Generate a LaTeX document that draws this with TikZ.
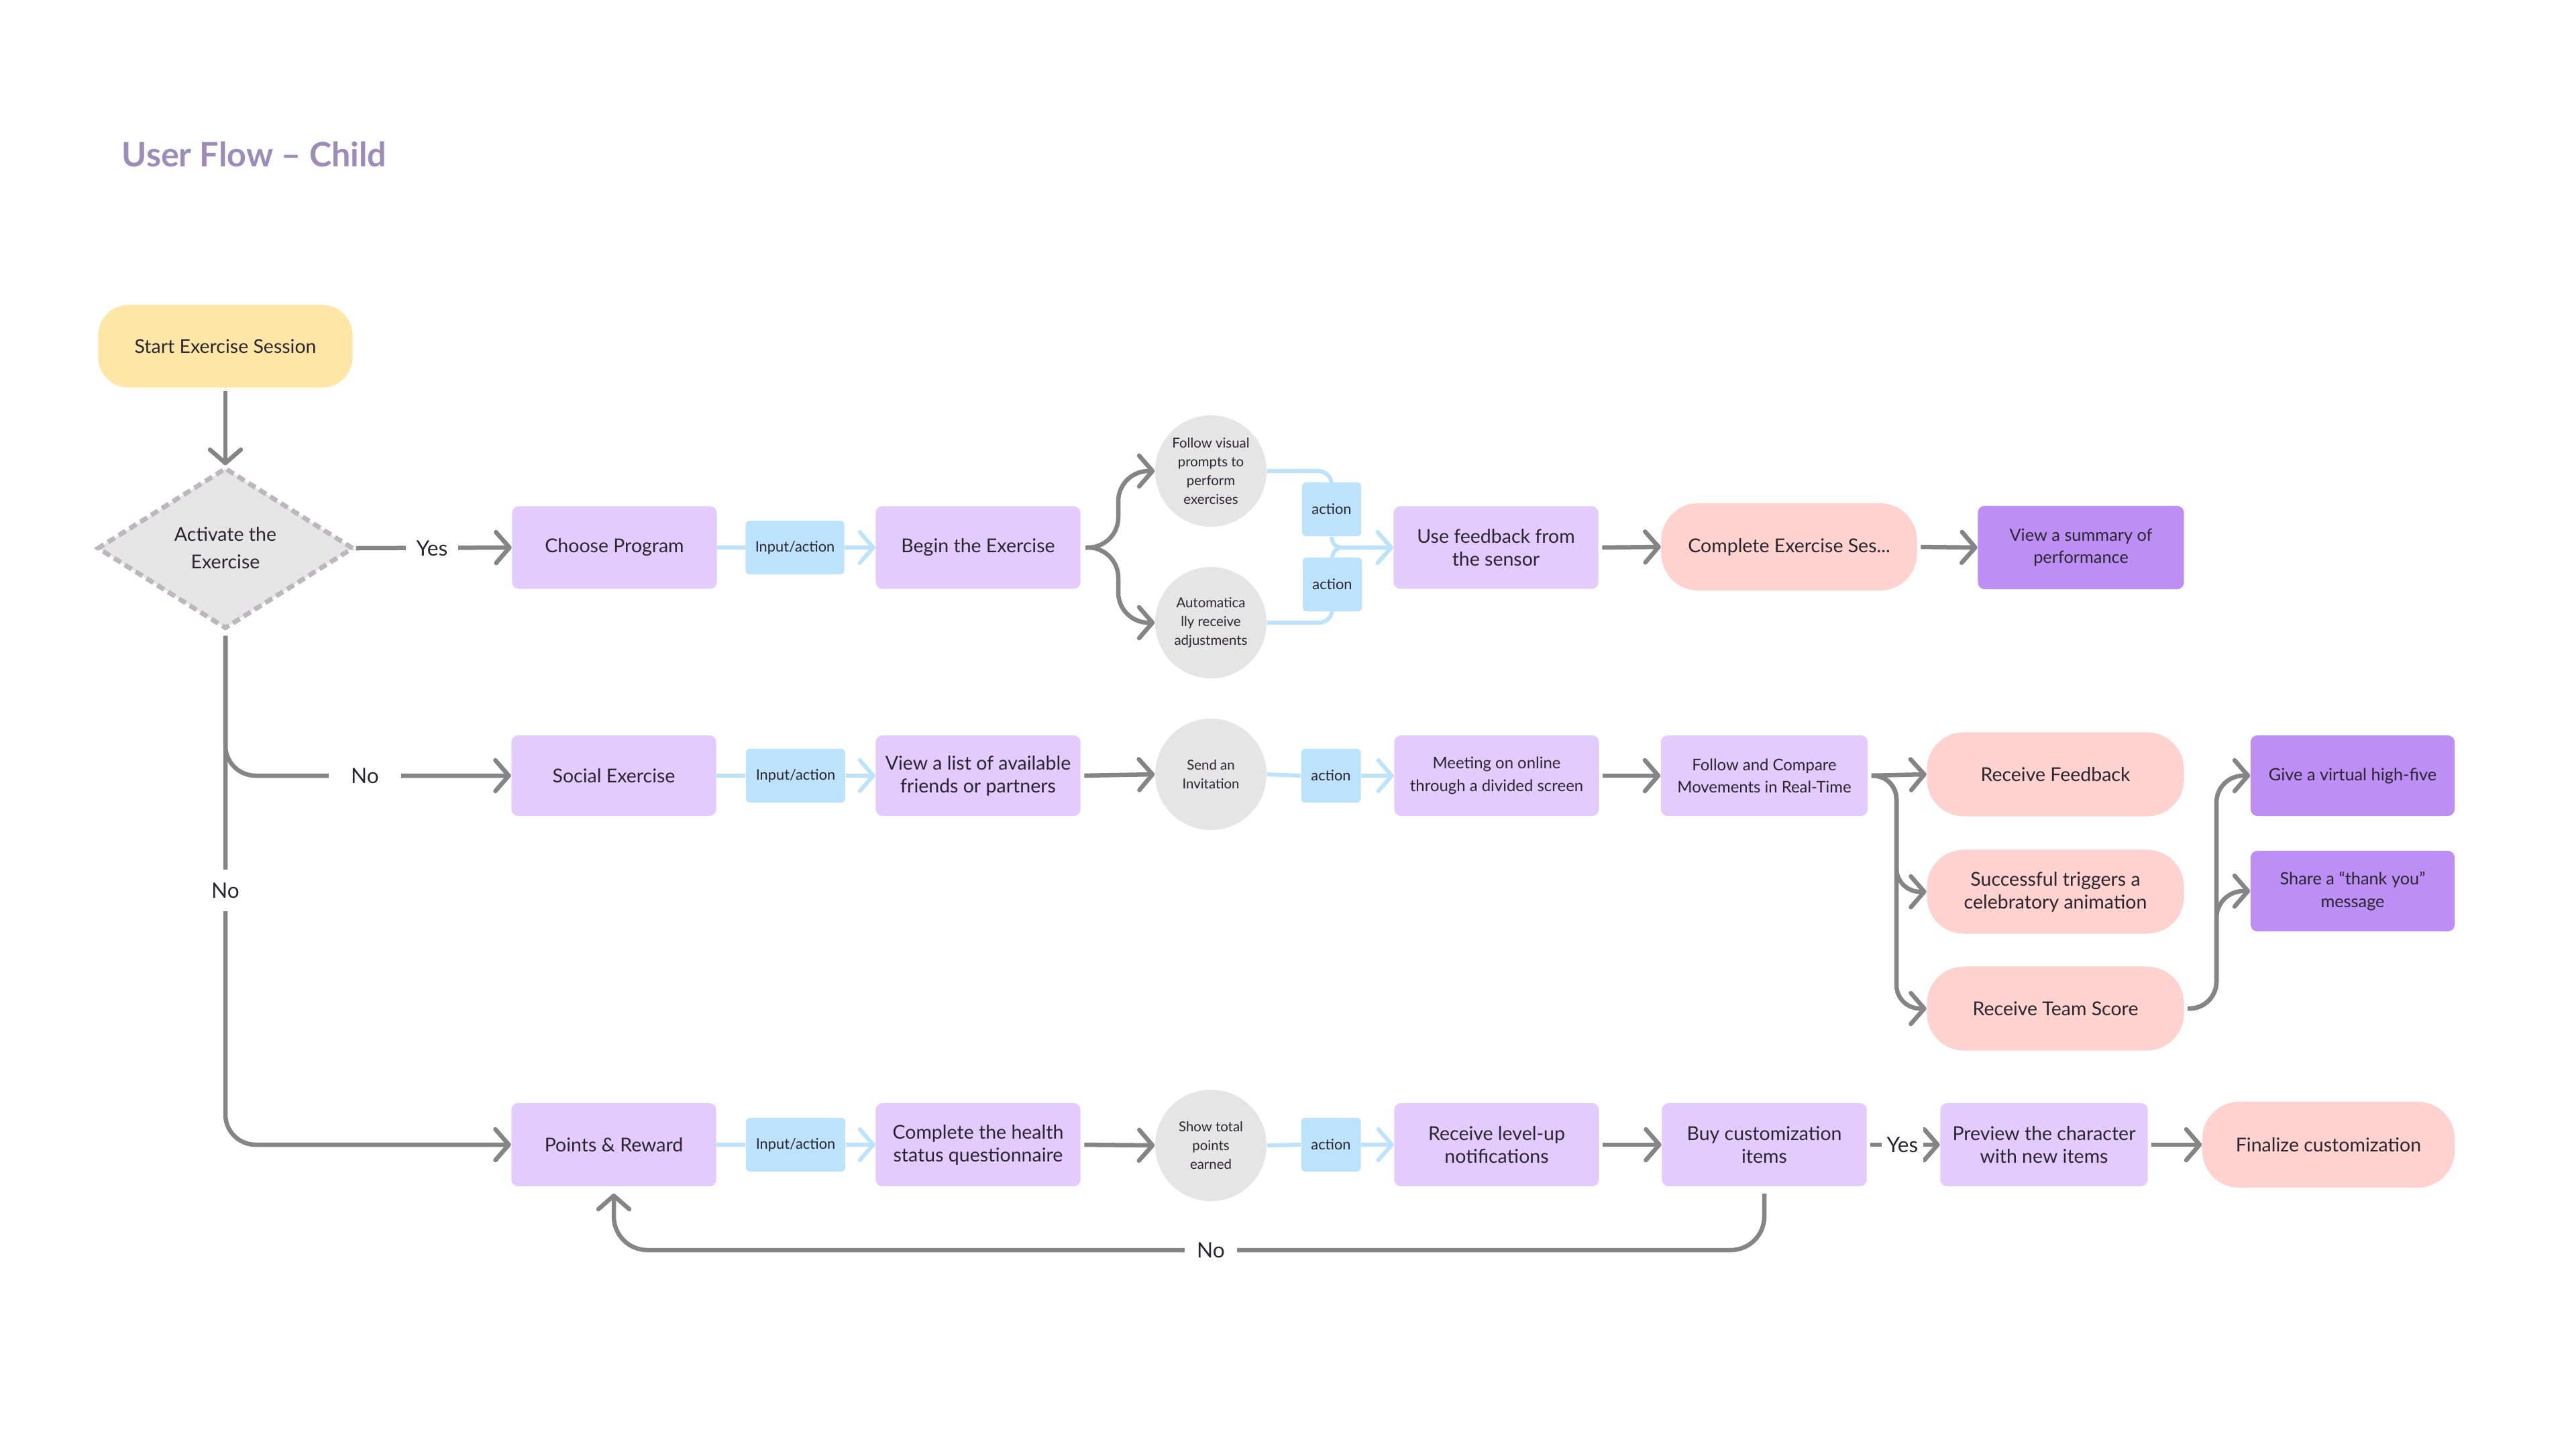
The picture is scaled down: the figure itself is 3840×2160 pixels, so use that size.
\documentclass[tikz,border=0pt]{standalone}
\usepackage{fontspec}
\setmainfont{Lato}
\usetikzlibrary{arrows.meta,shapes.geometric}
\definecolor{txt}{HTML}{2B2530}
\definecolor{lav}{HTML}{E3CCFD}
\definecolor{blu}{HTML}{BDE3FC}
\definecolor{pnk}{HTML}{FED2CE}
\definecolor{ylw}{HTML}{FEE6A6}
\definecolor{dpur}{HTML}{BD8FF5}
\definecolor{cgry}{HTML}{E5E5E5}
\definecolor{lgry}{HTML}{858486}
\definecolor{ttl}{HTML}{9D8CB9}
\definecolor{dsh}{HTML}{BDB6BF}
\newcommand\fReg{\fontsize{8.1pt}{9.7pt}\selectfont}
\newcommand\fSml{\fontsize{7.2pt}{9.5pt}\selectfont}
\newcommand\fSmx{\fontsize{6.8pt}{9.5pt}\selectfont}
\newcommand\fAct{\fontsize{6.2pt}{7pt}\selectfont}
\newcommand\fCirc{\fontsize{5.8pt}{8pt}\selectfont}
\newcommand\fLbl{\fontsize{9pt}{10pt}\selectfont}
\newcommand\fDia{\fontsize{8.1pt}{11.7pt}\selectfont}
\newcommand\fTtl{\fontsize{14.3pt}{16pt}\selectfont\bfseries}
\tikzset{
 base/.style={text=txt, align=center, inner sep=0pt, font=\fReg},
 box/.style={base, rectangle, rounded corners=0.1cm, fill=lav, minimum width=3.05cm, minimum height=1.23cm},
 dbox/.style={box, fill=dpur, font=\fSml},
 sbox/.style={box, font=\fSmx},
 pill/.style={base, rectangle, rounded corners=0.55cm, fill=pnk, minimum width=3.82cm, minimum height=1.26cm},
 act/.style={base, rectangle, rounded corners=0.06cm, fill=blu, minimum height=0.8cm, font=\fAct},
 circ/.style={base, circle, fill=cgry, minimum size=1.66cm, font=\fCirc},
 garrow/.style={draw=lgry, line width=0.065cm, -{Straight Barb[length=0.2cm,width=0.46cm,round]}},
 barrow/.style={draw=blu, line width=0.06cm, -{Straight Barb[length=0.2cm,width=0.46cm,round]}},
 bline/.style={draw=blu, line width=0.06cm},
 lbl/.style={fill=white, text=txt, font=\fLbl, inner sep=0.17cm},
}
\begin{document}
\begin{tikzpicture}[x=0.01cm,y=-0.01cm]
\useasboundingbox[fill=white] (0,0) rectangle (3840,2160);
\node[anchor=west, inner sep=0pt, text=ttl, font=\fTtl] (title) at (181,230) {User Flow – Child};
% start and decision
\node[base, rectangle, rounded corners=0.45cm, fill=ylw, minimum width=3.79cm, minimum height=1.23cm] (start) at (336,516) {Start Exercise Session};
\node[base, diamond, fill=cgry, draw=dsh, line width=0.07cm, dash pattern=on 0.12cm off 0.07cm, minimum width=3.82cm, minimum height=2.4cm, font=\fDia] (D) at (336,817) {Activate the\\Exercise};
% row 1
\node[box] (CP) at (916,816) {Choose Program};
\node[act, minimum width=1.47cm] (IA1) at (1185,816) {Input/action};
\node[box] (BE) at (1458,816) {Begin the Exercise};
\node[circ] (C1) at (1805,702) {Follow visual\\prompts to\\perform\\exercises};
\node[circ] (C2) at (1805,928) {Automatica\\lly receive\\adjustments};
\node[act, minimum width=0.88cm] (A1) at (1985,759) {action};
\node[act, minimum width=0.88cm] (A2) at (1986,871) {action};
\node[box] (UF) at (2230,816) {Use feedback from\\the sensor};
\node[pill, minimum width=3.81cm, minimum height=1.3cm] (CE) at (2667,815) {Complete Exercise Ses...};
\node[dbox, minimum width=3.07cm, minimum height=1.24cm] (VS) at (3102,816) {View a summary of\\performance};
% row 2
\node[box, minimum height=1.2cm] (SE) at (915,1156) {Social Exercise};
\node[act, minimum width=1.48cm] (IA2) at (1186,1156) {Input/action};
\node[box, minimum height=1.2cm] (VL) at (1458,1156) {View a list of available\\friends or partners};
\node[circ] (SI) at (1805,1154) {Send an\\Invitation};
\node[act, minimum width=0.89cm] (A3) at (1984,1156) {action};
\node[sbox, minimum height=1.2cm] (MO) at (2231,1156) {Meeting on online\\through a divided screen};
\node[sbox, minimum width=3.08cm, minimum height=1.2cm] (FC) at (2630,1156) {Follow and Compare\\Movements in Real-Time};
\node[pill, minimum width=3.83cm, minimum height=1.25cm] (RF) at (3064,1154) {Receive Feedback};
\node[pill, minimum width=3.83cm, minimum height=1.25cm] (ST) at (3064,1329) {Successful triggers a\\celebratory animation};
\node[pill, minimum width=3.83cm, minimum height=1.25cm] (TS) at (3064,1503) {Receive Team Score};
\node[dbox, minimum width=3.04cm, minimum height=1.2cm] (HF) at (3507,1156) {Give a virtual high-five};
\node[dbox, minimum width=3.04cm, minimum height=1.2cm] (SH) at (3507,1328) {Share a “thank you”\\message};
% row 3
\node[box, minimum height=1.24cm] (PR) at (915,1706) {Points \& Reward};
\node[act, minimum width=1.48cm] (IA3) at (1186,1706) {Input/action};
\node[box, minimum height=1.24cm] (CH) at (1458,1706) {Complete the health\\status questionnaire};
\node[circ] (SP) at (1805,1707) {Show total\\points\\earned};
\node[act, minimum width=0.89cm] (A4) at (1984,1706) {action};
\node[box, minimum height=1.24cm] (RL) at (2231,1706) {Receive level-up\\notifications};
\node[box, minimum height=1.24cm] (BC) at (2630,1706) {Buy customization\\items};
\node[box, minimum width=3.09cm, minimum height=1.24cm] (PV) at (3047,1706) {Preview the character\\with new items};
\node[pill, minimum width=3.76cm, minimum height=1.28cm] (FZ) at (3471,1706) {Finalize customization};
% coordinates
\coordinate (bb) at (1667,816);
\coordinate (fcb) at (2827,1156);
\coordinate (tsb) at (3304,1503);
\coordinate (nl) at (1805,1863);
% connectors: start / decision
\draw[garrow, shorten <=0.05cm] (start.south) -- (D.north);
\draw[garrow] (D.east) -- (CP.west);
\draw[garrow, rounded corners=0.45cm, shorten <=0.07cm] (D.south) |- (SE.west);
\draw[garrow, rounded corners=0.45cm, shorten <=0.07cm] (D.south) |- (PR.west);
% row 1
\draw[bline] (CP.east) -- (IA1.west);
\draw[barrow] (IA1.east) -- (BE.west);
\draw[garrow, rounded corners=0.45cm, shorten <=0.07cm] (BE.east) -- (bb) |- (C1.west);
\draw[garrow, rounded corners=0.45cm, shorten <=0.07cm] (BE.east) -- (bb) |- (C2.west);
\draw[bline, rounded corners=0.2cm] (C1.east) -| (A1.north);
\draw[bline, rounded corners=0.2cm] (C2.east) -| (A2.south);
\draw[barrow, rounded corners=0.15cm] (A1.south) |- (UF.west);
\draw[barrow, rounded corners=0.15cm] (A2.north) |- (UF.west);
\draw[garrow, shorten <=0.05cm] (UF.east) -- (CE.west);
\draw[garrow, shorten <=0.05cm] (CE.east) -- (VS.west);
% row 2
\draw[bline] (SE.east) -- (IA2.west);
\draw[barrow] (IA2.east) -- (VL.west);
\draw[garrow, shorten <=0.05cm] (VL.east) -- (SI.west);
\draw[bline] (SI.east) -- (A3.west);
\draw[barrow] (A3.east) -- (MO.west);
\draw[garrow, shorten <=0.05cm] (MO.east) -- (FC.west);
\draw[garrow, shorten <=0.05cm] (FC.east) -- (RF.west);
\draw[garrow, rounded corners=0.35cm, shorten <=0.05cm] (FC.east) -- (fcb) |- (ST.west);
\draw[garrow, rounded corners=0.35cm, shorten <=0.05cm] (FC.east) -- (fcb) |- (TS.west);
\draw[garrow, rounded corners=0.4cm, shorten <=0.05cm] (TS.east) -- (tsb) |- (HF.west);
\draw[garrow, rounded corners=0.4cm, shorten <=0.05cm] (TS.east) -- (tsb) |- (SH.west);
% row 3
\draw[bline] (PR.east) -- (IA3.west);
\draw[barrow] (IA3.east) -- (CH.west);
\draw[garrow, shorten <=0.05cm] (CH.east) -- (SP.west);
\draw[bline] (SP.east) -- (A4.west);
\draw[barrow] (A4.east) -- (RL.west);
\draw[garrow, shorten <=0.05cm] (RL.east) -- (BC.west);
\draw[garrow, shorten <=0.05cm] (BC.east) -- (PV.west);
\draw[garrow, shorten <=0.05cm] (PV.east) -- (FZ.west);
\draw[garrow, rounded corners=0.5cm, shorten <=0.1cm, shorten >=0.1cm] (BC.south) |- (nl) -| (PR.south);
% labels
\node[lbl, inner xsep=0.16cm] (yes1) at (644,817) {Yes};
\node[lbl, inner xsep=0.33cm] (no1) at (544,1156) {No};
\node[lbl, inner ysep=0.2cm] (no2) at (336,1327) {No};
\node[lbl, inner xsep=0.18cm] (no3) at (nl) {No};
\node[lbl, inner xsep=0.08cm] (yes2) at (2836,1706) {Yes};
\end{tikzpicture}
\end{document}
